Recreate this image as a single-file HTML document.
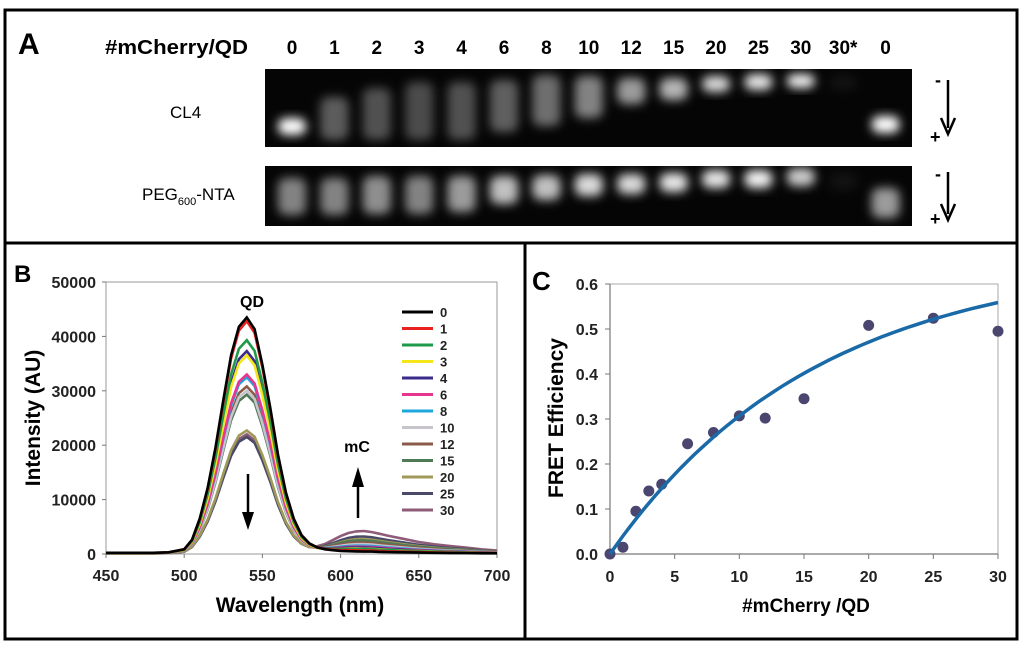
<!DOCTYPE html>
<html><head><meta charset="utf-8"><style>
html,body{margin:0;padding:0;background:#fff;}
svg{display:block;font-family:"Liberation Sans",sans-serif;}
</style></head><body>
<svg id="fig" width="1024" height="649" viewBox="0 0 1024 649">
<defs>
<filter id="blur" x="-50%" y="-50%" width="200%" height="200%"><feGaussianBlur stdDeviation="5"/></filter>
<filter id="blur2" x="-50%" y="-50%" width="200%" height="200%"><feGaussianBlur stdDeviation="3"/></filter>
</defs>
<rect x="5" y="10" width="1012" height="629" fill="none" stroke="#000" stroke-width="3"/>
<line x1="5" y1="243" x2="1017" y2="243" stroke="#000" stroke-width="3"/>
<line x1="525" y1="243" x2="525" y2="639" stroke="#000" stroke-width="3"/>
<text x="18" y="54" font-size="30" font-weight="bold">A</text>
<text x="105" y="54" font-size="20" font-weight="bold" textLength="143" lengthAdjust="spacingAndGlyphs">#mCherry/QD</text>
<text x="170" y="118" font-size="17">CL4</text>
<text x="142" y="200" font-size="17">PEG<tspan font-size="11" dy="5">600</tspan><tspan dy="-5">-NTA</tspan></text>
<rect x="265" y="69" width="647" height="78" fill="#050505"/>
<rect x="265" y="166" width="647" height="60" fill="#050505"/>
<g id="gels"></g>
<g id="laneLabels"></g>
<g>
<text x="935" y="86" font-size="18" font-weight="bold">-</text>
<text x="930" y="143" font-size="18" font-weight="bold">+</text>
<line x1="948" y1="80" x2="948" y2="128" stroke="#000" stroke-width="2.5"/>
<path d="M941 118 L948 134 L955 118" fill="none" stroke="#000" stroke-width="2.5"/>
</g>
<g>
<text x="935" y="180" font-size="18" font-weight="bold">-</text>
<text x="930" y="225" font-size="18" font-weight="bold">+</text>
<line x1="948" y1="172" x2="948" y2="214" stroke="#000" stroke-width="2.5"/>
<path d="M941 204 L948 220 L955 204" fill="none" stroke="#000" stroke-width="2.5"/>
</g>
<text x="14" y="282" font-size="24" font-weight="bold">B</text>
<text x="532" y="290" font-size="26" font-weight="bold">C</text>
<g id="chartB"></g>
<g id="chartC"></g>
</svg>
<script>
// ---- Panel A gel data ----
const laneLabels=["0","1","2","3","4","6","8","10","12","15","20","25","30","30*","0"];
const cl4Top=[118,97,88,82,82,80,75,76,78,78,76,74,74,75,116];
const cl4Bot=[135,140,140,140,140,132,126,118,104,100,92,90,88,90,133];
const cl4Bright=[1,0.35,0.3,0.28,0.3,0.36,0.42,0.5,0.6,0.7,0.85,0.9,0.95,0.05,1];
const pegTop=[178,178,176,176,176,176,175,174,174,173,170,170,168,172,188];
const pegBot=[215,215,214,214,212,204,200,196,194,192,188,188,186,190,218];
const pegBright=[0.5,0.5,0.55,0.5,0.6,0.75,0.75,0.85,0.85,0.9,0.9,0.95,0.8,0.05,0.6];
// ---- Panel B spectra data ----
const seriesNames=["0","1","2","3","4","6","8","10","12","15","20","25","30"];
const seriesColors=["#000000","#e8211f","#1e9a4a","#f5e61b","#3a2b8c","#e8358f","#1fa7dc","#c8c4cc","#8b5a48","#4e7a56","#a09a5a","#4a4a68","#8e5c78"];
const qdPeak=[43500,42800,39300,36500,37300,33000,32500,30000,30800,29300,22700,21500,22000];
const mcPeak=[0,200,500,600,800,1000,1200,1500,1800,2200,2500,3000,4000];
const wavelengths=[450,460,470,480,490,500,505,510,515,520,525,530,535,540,545,550,555,560,565,570,575,580,585,590,595,600,605,610,615,620,625,630,640,650,660,670,680,690,700];
const qdShape=[0.005,0.005,0.005,0.005,0.007,0.02,0.06,0.15,0.28,0.45,0.65,0.84,0.96,1,0.95,0.8,0.62,0.42,0.26,0.15,0.08,0.045,0.028,0.02,0.016,0.013,0.012,0.011,0.01,0.01,0.009,0.008,0.007,0.006,0.005,0.004,0.004,0.003,0.003];
const mcShape=[0,0,0,0,0,0,0,0,0,0,0,0,0,0,0,0,0,0,0,0.01,0.05,0.1,0.2,0.35,0.55,0.75,0.9,0.98,1,0.95,0.88,0.8,0.66,0.52,0.42,0.34,0.27,0.2,0.14];
const yTicksB=[0,10000,20000,30000,40000,50000];
const xTicksB=[450,500,550,600,650,700];
// ---- Panel C FRET data ----
const ratios=[0,1,2,3,4,6,8,10,12,15,20,25,30];
const fret=[0,0.015,0.095,0.14,0.155,0.245,0.27,0.307,0.302,0.345,0.508,0.524,0.495];
const fitParams=[0.66,16];
const yTicksC=[0,0.1,0.2,0.3,0.4,0.5,0.6];
const xTicksC=[0,5,10,15,20,25,30];

const NS="http://www.w3.org/2000/svg";
function mk(tag,attrs,parent,text){const e=document.createElementNS(NS,tag);for(const k in attrs)e.setAttribute(k,attrs[k]);if(text!==undefined)e.textContent=text;parent.appendChild(e);return e;}

// Panel A
const lanesX=i=>292+i*42.4;
const gels=document.getElementById('gels');
const ll=document.getElementById('laneLabels');
laneLabels.forEach((l,i)=>{
  const t=mk('text',{x:lanesX(i),y:54,'font-size':19,'font-weight':'bold','text-anchor':'middle'},ll,l);
  
  
  const b1=mk('rect',{x:lanesX(i)-14,y:cl4Top[i],width:28,height:cl4Bot[i]-cl4Top[i],rx:8,fill:'#fff','fill-opacity':cl4Bright[i],filter:'url(#blur)'},gels);
  
  
  const b2=mk('rect',{x:lanesX(i)-14,y:pegTop[i],width:28,height:pegBot[i]-pegTop[i],rx:8,fill:'#fff','fill-opacity':pegBright[i],filter:'url(#blur)'},gels);
  
  
});

// Panel B
const gB=document.getElementById('chartB');
const xB=v=>106+(v-450)/250*391, yB=v=>554-v/50000*272;
const frame=mk('rect',{x:106,y:282,width:391,height:272,fill:'none',stroke:'#999','stroke-width':1},gB);


yTicksB.forEach(v=>{const t=mk('text',{x:96,y:yB(v)+6,'font-size':16,'font-weight':'bold','text-anchor':'end',fill:'#222'},gB,v);
  
  
  mk('line',{x1:102,x2:106,y1:yB(v),y2:yB(v),stroke:'#777'},gB);});
xTicksB.forEach(v=>{const t=mk('text',{x:xB(v),y:581,'font-size':16,'font-weight':'bold','text-anchor':'middle',fill:'#222'},gB,v);
  
  
  mk('line',{x1:xB(v),x2:xB(v),y1:554,y2:558,stroke:'#777'},gB);});
for(let s=seriesNames.length-1;s>=0;s--){
  const d=wavelengths.map((w,i)=>(i?'L':'M')+xB(w).toFixed(1)+' '+yB(qdPeak[s]*qdShape[i]+mcPeak[s]*mcShape[i]).toFixed(1)).join(' ');
  const p=mk('path',{d:d,fill:'none',stroke:seriesColors[s],'stroke-width':2.6},gB);
  
  
}
seriesNames.forEach((n,i)=>{const y=312+i*16.5;
  const ln=mk('line',{x1:402,x2:433,y1:y,y2:y,stroke:seriesColors[i],'stroke-width':3},gB);
  
  
  const t=mk('text',{x:440,y:y+5,'font-size':13,'font-weight':'bold',fill:'#222'},gB,n);
  
  });
let t;
t=mk('text',{x:252,y:307,'font-size':16,'font-weight':'bold','text-anchor':'middle'},gB,'QD');


t=mk('text',{x:357,y:452,'font-size':16,'font-weight':'bold','text-anchor':'middle'},gB,'mC');


mk('line',{x1:248,x2:248,y1:474,y2:525,stroke:'#000','stroke-width':2.5},gB);
mk('path',{d:'M242 512 L248 530 L254 512 Z',fill:'#000'},gB);
mk('line',{x1:358,x2:358,y1:518,y2:475,stroke:'#000','stroke-width':2.5},gB);
mk('path',{d:'M352 487 L358 467 L364 487 Z',fill:'#000'},gB);
t=mk('text',{x:300,y:612,'font-size':21,'font-weight':'bold','text-anchor':'middle'},gB,'Wavelength (nm)');


t=mk('text',{x:0,y:0,'font-size':21,'font-weight':'bold','text-anchor':'middle',transform:'translate(40 418) rotate(-90)'},gB,'Intensity (AU)');



// Panel C
const gC=document.getElementById('chartC');
const xC=v=>610+v/30*388, yC=v=>554-v/0.6*270;
mk('polyline',{points:`610,284 998,284 998,554`,fill:'none',stroke:'#aaa'},gC);
mk('polyline',{points:`610,284 610,554 998,554`,fill:'none',stroke:'#777','stroke-width':1.2},gC);
yTicksC.forEach(v=>{const t=mk('text',{x:598,y:yC(v)+6,'font-size':16,'font-weight':'bold','text-anchor':'end',fill:'#222'},gC,v.toFixed(1));
  
  
  mk('line',{x1:605,x2:610,y1:yC(v),y2:yC(v),stroke:'#777'},gC);});
xTicksC.forEach(v=>{const t=mk('text',{x:xC(v),y:582,'font-size':16,'font-weight':'bold','text-anchor':'middle',fill:'#222'},gC,v);
  
  
  mk('line',{x1:xC(v),x2:xC(v),y1:554,y2:559,stroke:'#777'},gC);});
ratios.forEach((r,i)=>{const c=mk('circle',{cx:xC(r),cy:yC(fret[i]),r:5.5,fill:'#4b4670'},gC);
  
  });
let fd='';for(let n=0;n<=30;n+=0.5){fd+=(n?'L':'M')+xC(n).toFixed(1)+' '+yC(fitParams[0]*(1-Math.exp(-n/fitParams[1]))).toFixed(1)+' ';}
const fp=mk('path',{d:fd,fill:'none',stroke:'#1a6aa8','stroke-width':3.5},gC);


t=mk('text',{x:806,y:612,'font-size':19,'font-weight':'bold','text-anchor':'middle'},gC,'#mCherry /QD');


t=mk('text',{x:0,y:0,'font-size':21,'font-weight':'bold','text-anchor':'middle',transform:'translate(563 418) rotate(-90)'},gC,'FRET Efficiency');


</script>
</body></html>
